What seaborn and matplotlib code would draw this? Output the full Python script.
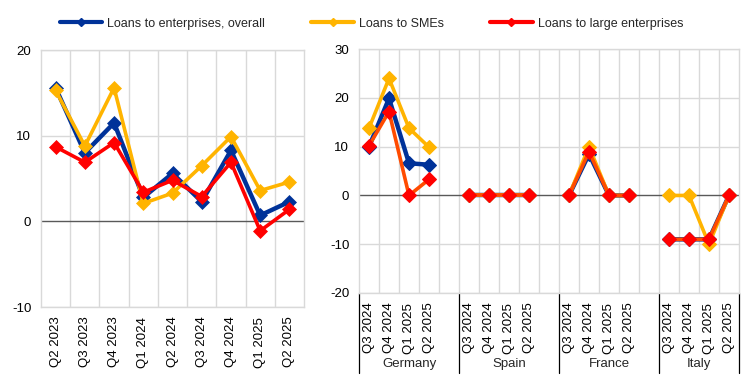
import numpy as np
import pandas as pd
import matplotlib
matplotlib.use("Agg")
import matplotlib.pyplot as plt
import seaborn as sns
from matplotlib.lines import Line2D
from matplotlib.transforms import blended_transform_factory

sns.set_theme(style="white")
plt.rcParams['font.family'] = ['Liberation Sans', 'DejaVu Sans']
plt.rcParams['axes.unicode_minus'] = False

# ---- data ----
left_quarters = ["Q2 2023", "Q3 2023", "Q4 2023", "Q1 2024", "Q2 2024",
                 "Q3 2024", "Q4 2024", "Q1 2025", "Q2 2025"]
left_overall = [15.6, 8.0, 11.5, 2.8, 5.6, 2.3, 8.3, 0.7, 2.3]
left_smes = [15.3, 8.8, 15.6, 2.1, 3.3, 6.5, 9.9, 3.6, 4.6]
left_large = [8.7, 6.9, 9.2, 3.4, 4.8, 2.9, 6.9, -1.1, 1.4]

countries = ["Germany", "Spain", "France", "Italy"]
right_quarters = ["Q3 2024", "Q4 2024", "Q1 2025", "Q2 2025"]
right_overall = {"Germany": [10.0, 19.9, 6.6, 6.3], "Spain": [0, 0, 0, 0],
                 "France": [0, 8.5, 0, 0], "Italy": [-9.0, -9.0, -9.0, 0]}
right_smes = {"Germany": [13.8, 24.0, 13.8, 9.9], "Spain": [0, 0, 0, 0],
              "France": [0, 10.0, 0, 0], "Italy": [0, 0, -10.0, 0]}
right_large = {"Germany": [10.2, 17.2, 0, 3.3], "Spain": [0, 0, 0, 0],
               "France": [0, 9.0, 0, 0], "Italy": [-9.0, -9.0, -9.0, 0]}

series_names = ["Loans to enterprises, overall", "Loans to SMEs", "Loans to large enterprises"]
BLUE, YELLOW, RED, ORANGE = "#003299", "#FFB400", "#FF0000", "#FF4B00"
GRID = "#D9D9D9"
FS = 9

fig = plt.figure(figsize=(7.43, 3.84), dpi=100)
axL = fig.add_axes([0.0552, 0.2005, 0.354, 0.669])
axR = fig.add_axes([0.4832, 0.237, 0.5114, 0.635])

def style_axes(ax, ylim, yticks, nx):
    ax.set_ylim(*ylim)
    ax.set_xlim(-0.5, nx - 0.5)
    ax.set_yticks(yticks)
    ax.grid(False)
    for y in yticks:
        if y != 0:
            ax.axhline(y, color=GRID, lw=1, zorder=0)
    for xm in np.arange(nx - 1) + 0.5:
        ax.axvline(xm, color=GRID, lw=1, zorder=0)
    ax.axhline(0, color="#595959", lw=1, zorder=1)
    for s in ax.spines.values():
        s.set_color(GRID)
        s.set_linewidth(1)
    ax.tick_params(axis="y", length=0, labelsize=FS + 0.5, colors="black", pad=7)
    ax.tick_params(axis="x", length=0, labelsize=FS + 0.5, colors="black", pad=7)

# ---- left panel ----
xL = np.arange(len(left_quarters))
dfL = pd.DataFrame({"x": xL, "overall": left_overall, "smes": left_smes, "large": left_large})
for col, c, lw in [("overall", BLUE, 3.2), ("smes", YELLOW, 2.6), ("large", RED, 2.6)]:
    sns.lineplot(data=dfL, x="x", y=col, ax=axL, color=c, lw=lw, marker="D",
                 markersize=7, markeredgecolor=c, markeredgewidth=0.5, zorder=3)
style_axes(axL, (-10, 20), [-10, 0, 10, 20], len(left_quarters))
axL.set_xticks(xL)
axL.set_xticklabels(left_quarters, rotation=90)
axL.set_xlabel("")
axL.set_ylabel("")

# ---- right panel ----
nR = len(countries) * 5 - 1
for gi, ctry in enumerate(countries):
    xs = np.arange(4) + gi * 5
    dfR = pd.DataFrame({"x": xs, "overall": right_overall[ctry],
                        "smes": right_smes[ctry], "large": right_large[ctry]})
    sns.lineplot(data=dfR, x="x", y="overall", ax=axR, color=BLUE, lw=3.2, marker="D",
                 markersize=7, markeredgecolor=BLUE, zorder=3)
    sns.lineplot(data=dfR, x="x", y="smes", ax=axR, color=YELLOW, lw=2.6, marker="D",
                 markersize=7, markeredgecolor=YELLOW, zorder=3)
    sns.lineplot(data=dfR, x="x", y="large", ax=axR, color=ORANGE, lw=2.6, marker="D",
                 markersize=7, markerfacecolor=RED, markeredgecolor=RED, zorder=3)
style_axes(axR, (-20, 30), [-20, -10, 0, 10, 20, 30], nR)
tick_pos, tick_lab = [], []
for gi in range(len(countries)):
    for qi, q in enumerate(right_quarters):
        tick_pos.append(gi * 5 + qi)
        tick_lab.append(q)
axR.set_xticks(tick_pos)
axR.set_xticklabels(tick_lab, rotation=90)
axR.set_xlabel("")
axR.set_ylabel("")

trans = blended_transform_factory(axR.transData, axR.transAxes)
bounds = [-0.5, 4.5, 9.5, 14.5, 18.5]
for b in bounds:
    axR.plot([b, b], [0, -0.33], transform=trans, color="black", lw=0.9, clip_on=False)
for gi, ctry in enumerate(countries):
    a, b = bounds[gi], bounds[gi + 1]
    axR.text((a + b) / 2, -0.292, ctry, transform=trans, ha="center", va="center",
             fontsize=FS + 0.5)

# ---- legend ----
handles = [Line2D([0], [0], color=c, lw=3, marker="D", markersize=4, markeredgecolor=c)
           for c in [BLUE, YELLOW, RED]]
fig.legend(handles, series_names, loc="center", bbox_to_anchor=(0.5, 0.938), ncol=3,
           frameon=False, fontsize=FS, handlelength=3.4, columnspacing=3.7, handletextpad=0.4)

fig.savefig("out.png", dpi=100)
